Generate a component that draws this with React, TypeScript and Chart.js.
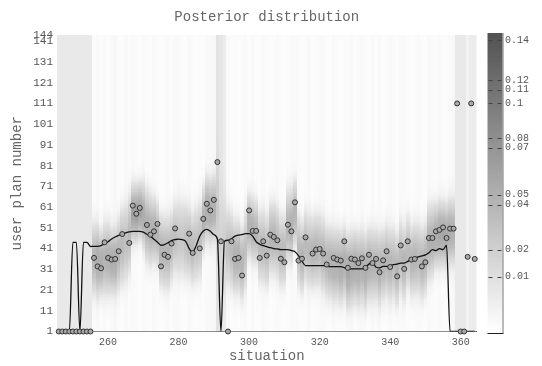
import React, { useEffect, useRef } from 'react';
import { Chart, registerables } from 'chart.js';
Chart.register(...registerables);

const MONO = '"Liberation Mono", "DejaVu Sans Mono", monospace';

const situations = [
  246, 247, 248, 249, 250, 251, 252, 253, 254, 255,
  256, 257, 258, 259, 260, 261, 262, 263, 264, 265,
  266, 267, 268, 269, 270, 271, 272, 273, 274, 275,
  276, 277, 278, 279, 280, 281, 282, 283, 284, 285,
  286, 287, 288, 289, 290, 291, 292, 293, 294, 295,
  296, 297, 298, 299, 300, 301, 302, 303, 304, 305,
  306, 307, 308, 309, 310, 311, 312, 313, 314, 315,
  316, 317, 318, 319, 320, 321, 322, 323, 324, 325,
  326, 327, 328, 329, 330, 331, 332, 333, 334, 335,
  336, 337, 338, 339, 340, 341, 342, 343, 344, 345,
  346, 347, 348, 349, 350, 351, 352, 353, 354, 355,
  356, 357, 358, 359, 360, 361, 362, 363, 364,
];

// observed user plan number (circles)
const userPlan = [
  1, 1, 1, 1, 1, 1, 1, 1, 1, 1,
  36.5, 32.4, 31.5, 44, 36.5, 35.7, 36, 39.7, 48, null,
  43.7, 61.7, 57.8, 60.6, null, 52.4, 47.7, 49.3, 52.9, 32.4,
  38, 37, 43.4, 50.7, null, null, null, 48.2, 38.9, null,
  41.1, 55.3, 62.6, 59.4, 64.5, 82.7, 44.5, null, 1, 44.5,
  36, 36.5, 28, null, 59.4, 49.5, 49.5, 36.5, 44.5, 37.6,
  47.7, 46.6, 45, 36.1, 34.4, 52.5, 49.3, 63.3, 35.2, 36.1,
  46.4, null, 38.6, 40.5, 40.8, 38.6, 33.3, null, 36.5, 35.7,
  35.2, 44.5, 31.7, 36.1, 35.7, 34, 36.3, 31.7, 38, 34,
  36, 29.6, 35.3, 39.7, 32.1, null, 27.6, 42.5, 31.2, 44.5,
  35.7, 36, null, 32.4, 34.4, 46.1, 46.1, 49.3, 50, 51.2,
  46.1, 50.6, 50.6, 111, 1, 1, 37, 111, 36,
];

// estimated user plan number (black line)
const estimate = [
  1, 1, 1, 1, 44, 44, 1, 44, 44, 42,
  42.1, 42.1, 42.4, 43.4, 44.3, 45.6, 46.6, 47.4, 48, 48.6,
  49.1, 49.3, 49.3, 49.3, 48.9, 47.9, 47, 45.5, 44.1, 42.6,
  42.9, 43.8, 44.8, 45.3, 45.6, 45.3, 44.5, 41, 39.3, 42.5,
  47, 49.5, 50.3, 49.4, 47.7, 45.6, 1, 44.5, 45, 45.8,
  47, 47.5, 47.7, 48.2, 48.2, 47, 44.3, 43.1, 42.4, 41.9,
  41.4, 41, 40.8, 40.5, 40.5, 40.5, 40, 39.5, 37.6, 35,
  32.8, 32.8, 32.8, 32.8, 32.8, 32.8, 32.5, 32.3, 32.3, 32.3,
  32.3, 31.8, 31.2, 31.2, 31.2, 31.2, 31.2, 32, 33.5, 34.5,
  32, 31.7, 32.4, 32.4, 32.8, 33.3, 33.5, 34, 34, 34.8,
  35.7, 36.3, 37, 37.5, 38, 39, 40.5, 40, 41, 40.5,
  42.5, 1, 1, 1, 1, 1, 1, 1, 1,
];

// posterior per situation: centre, spread, peak and background level
const postCenter = [
  0, 0, 0, 0, 0, 0, 0, 0, 0, 0,
  36, 35, 34, 36, 36, 35, 35, 38, 42, 44,
  48, 58, 58, 59, 57, 52, 50, 50, 48, 40,
  39, 39, 42, 46, 46, 46, 45, 44, 41, 43,
  45, 55, 60, 59, 60, 60, 45, 44, 42, 40,
  37, 37, 34, 40, 52, 50, 49, 42, 42, 40,
  46, 46, 44, 40, 40, 52, 52, 58, 40, 37,
  42, 40, 39, 40, 40, 38, 35, 34, 33, 33,
  32, 34, 30, 31, 32, 31, 32, 30, 33, 33,
  33, 31, 33, 35, 33, 34, 31, 37, 34, 39,
  35, 36, 36, 34, 36, 44, 45, 47, 48, 48,
  47, 49, 49, 0, 0, 0, 0, 0, 0,
];
const postSpread = [
  1, 1, 1, 1, 1, 1, 1, 1, 1, 1,
  9, 9, 8, 9, 9, 8, 8, 9, 10, 10,
  10, 7, 7, 7, 8, 9, 9, 8, 8, 9,
  9, 9, 9, 9, 10, 10, 10, 9, 9, 10,
  10, 8, 8, 8, 8, 14, 14, 12, 10, 10,
  9, 9, 9, 10, 8, 8, 8, 9, 9, 9,
  9, 9, 9, 9, 9, 9, 9, 8, 9, 9,
  9, 9, 9, 9, 9, 9, 9, 9, 9, 9,
  9, 9, 9, 9, 9, 9, 9, 9, 9, 9,
  9, 9, 9, 9, 9, 9, 9, 9, 9, 9,
  9, 9, 9, 9, 9, 9, 9, 8, 8, 8,
  8, 8, 8, 1, 1, 1, 1, 1, 1,
];
const postPeak = [
  0, 0, 0, 0, 0, 0, 0, 0, 0, 0,
  0.04, 0.05, 0.05, 0.04, 0.045, 0.05, 0.05, 0.04, 0.035, 0.03,
  0.035, 0.06, 0.065, 0.06, 0.05, 0.045, 0.045, 0.045, 0.04, 0.04,
  0.04, 0.04, 0.035, 0.03, 0.025, 0.025, 0.03, 0.035, 0.035, 0.03,
  0.03, 0.045, 0.05, 0.05, 0.045, 0.015, 0.01, 0.015, 0.03, 0.035,
  0.045, 0.045, 0.04, 0.03, 0.045, 0.045, 0.04, 0.035, 0.035, 0.035,
  0.04, 0.04, 0.035, 0.035, 0.035, 0.04, 0.045, 0.04, 0.035, 0.04,
  0.035, 0.035, 0.04, 0.04, 0.035, 0.04, 0.04, 0.045, 0.045, 0.045,
  0.05, 0.045, 0.055, 0.05, 0.05, 0.05, 0.045, 0.05, 0.045, 0.04,
  0.04, 0.045, 0.04, 0.04, 0.04, 0.035, 0.04, 0.035, 0.04, 0.035,
  0.04, 0.04, 0.035, 0.04, 0.04, 0.045, 0.045, 0.05, 0.055, 0.055,
  0.055, 0.05, 0.045, 0, 0, 0, 0, 0, 0,
];
const postTail = [
  0.0069, 0.0069, 0.0069, 0.0069, 0.0069, 0.0069, 0.0069, 0.0069, 0.0069, 0.0069,
  0.0012, 0.0018, 0.0012, 0.0018, 0.0012, 0.0018, 0.0025, 0.0012, 0.0008, 0.0018,
  0.0012, 0.0018, 0.0012, 0.0008, 0.0018, 0.0012, 0.0008, 0.0018, 0.0012, 0.0008,
  0.0012, 0.0018, 0.0008, 0.0018, 0.0018, 0.0012, 0.0008, 0.0018, 0.0012, 0.0008,
  0.0012, 0.0008, 0.0018, 0.0018, 0.0025, 0.009, 0.008, 0.006, 0.0018, 0.0008,
  0.0012, 0.0008, 0.0012, 0.0018, 0.0008, 0.0018, 0.0012, 0.0008, 0.0018, 0.0012,
  0.0008, 0.0012, 0.0018, 0.0012, 0.0008, 0.0012, 0.0018, 0.0018, 0.0012, 0.0008,
  0.0012, 0.0018, 0.0008, 0.0012, 0.0018, 0.0018, 0.0012, 0.0008, 0.0018, 0.0012,
  0.0008, 0.0012, 0.0012, 0.0018, 0.0008, 0.0012, 0.0018, 0.0012, 0.0008, 0.0018,
  0.0012, 0.0018, 0.0008, 0.0012, 0.0018, 0.0012, 0.0008, 0.0018, 0.0018, 0.0012,
  0.0008, 0.0012, 0.0018, 0.0012, 0.0008, 0.0018, 0.0012, 0.0012, 0.0018, 0.0012,
  0.0012, 0.0018, 0.0025, 0.007, 0.007, 0.007, 0.004, 0.006, 0.006,
];

const planCount = 144;
const xTicks = [260, 280, 300, 320, 340, 360];
const yTicks = [1, 11, 21, 31, 41, 51, 61, 71, 81, 91, 101, 111, 121, 131, 141, 144];
const colorbarTicks = [0.01, 0.02, 0.04, 0.05, 0.07, 0.08, 0.1, 0.11, 0.12, 0.14];
const colorbarTickLabels = ['0.01', '0.02', '0.04', '0.05', '0.07', '0.08', '0.1', '0.11', '0.12', '0.14'];
// position of each colorbar value on the colour scale (0 = white, 1 = darkest)
const colorbarLevels = [0.185, 0.276, 0.428, 0.461, 0.62, 0.653, 0.771, 0.815, 0.848, 0.983];
const colorbarMax = 0.143;

function levelFor(v: number): number {
  const xs = [0, ...colorbarTicks, colorbarMax];
  const ls = [0, ...colorbarLevels, 1];
  if (v <= 0) return 0;
  if (v >= colorbarMax) return 1;
  for (let k = 1; k < xs.length; k++) {
    if (v <= xs[k]) return ls[k - 1] + ((ls[k] - ls[k - 1]) * (v - xs[k - 1])) / (xs[k] - xs[k - 1]);
  }
  return 1;
}
function grayForLevel(l: number): string {
  const g = Math.round(255 - l * 172);
  return `rgb(${g},${g},${g})`;
}
function cellValue(i: number, r: number): number {
  const s = postSpread[i] || 1;
  const d = (r - postCenter[i]) / s;
  return postTail[i] + postPeak[i] * Math.exp(-0.5 * d * d);
}

const heatmapPlugin = {
  id: 'heatmap',
  beforeDatasetsDraw(chart: any) {
    const { ctx, chartArea } = chart;
    const x = chart.scales.x;
    const y = chart.scales.y;
    ctx.save();
    ctx.beginPath();
    ctx.rect(chartArea.left, chartArea.top, chartArea.right - chartArea.left, chartArea.bottom - chartArea.top);
    ctx.clip();
    situations.forEach((sit, i) => {
      const x0 = Math.round(x.getPixelForValue(sit - 0.5));
      const x1 = Math.round(x.getPixelForValue(sit + 0.5));
      for (let r = 1; r <= planCount; r++) {
        const y0 = Math.round(y.getPixelForValue(r + 0.5));
        const y1 = Math.round(y.getPixelForValue(r - 0.5));
        ctx.fillStyle = grayForLevel(levelFor(cellValue(i, r)));
        ctx.fillRect(x0, y0, x1 - x0, y1 - y0);
      }
    });
    ctx.restore();
  },
  afterDraw(chart: any) {
    const { ctx } = chart;
    const cb = chart.scales.cb;
    const bl = cb.left + 11;
    const br = cb.left + 26;
    const top = Math.round(cb.top) - 2;
    const bottom = Math.round(cb.bottom) + 1;
    ctx.save();
    for (let py = top; py < bottom; py++) {
      const l = Math.max(0, Math.min(1, cb.getValueForPixel(py + 0.5)));
      ctx.fillStyle = grayForLevel(l);
      ctx.fillRect(bl, py, br - bl, 1);
    }
    ctx.strokeStyle = '#777';
    ctx.lineWidth = 1;
    ctx.beginPath();
    ctx.moveTo(br + 0.5, top);
    ctx.lineTo(br + 0.5, bottom);
    ctx.stroke();
    ctx.strokeStyle = '#222';
    ctx.beginPath();
    ctx.moveTo(bl, bottom + 0.5);
    ctx.lineTo(br + 1, bottom + 0.5);
    ctx.stroke();
    ctx.strokeStyle = '#444';
    colorbarLevels.forEach((lv) => {
      const py = Math.round(cb.getPixelForValue(lv)) + 0.5;
      ctx.beginPath();
      ctx.moveTo(bl + 1, py);
      ctx.lineTo(bl + 5, py);
      ctx.moveTo(br - 5, py);
      ctx.lineTo(br - 1, py);
      ctx.stroke();
    });
    ctx.restore();
  },
};

export default function App() {
  const ref = useRef<HTMLCanvasElement>(null);
  useEffect(() => {
    if (!ref.current) return;
    const scatterData = situations
      .map((s, i) => ({ x: s, y: userPlan[i] }))
      .filter((p) => p.y !== null);
    const lineData = situations.map((s, i) => ({ x: s, y: estimate[i] }));
    const chart = new Chart(ref.current, {
      type: 'scatter',
      data: {
        datasets: [
          {
            type: 'scatter',
            label: 'user plan',
            data: scatterData as any,
            pointRadius: 2.5,
            pointBorderWidth: 1,
            borderColor: '#333',
            backgroundColor: '#a8a8a8',
            order: 0,
            clip: false as any,
          },
          {
            type: 'line',
            label: 'estimate',
            data: lineData as any,
            borderColor: '#111',
            borderWidth: 1.3,
            pointRadius: 0,
            cubicInterpolationMode: 'monotone',
            fill: false,
            order: 1,
          } as any,
        ],
      },
      options: {
        animation: false,
        responsive: true,
        maintainAspectRatio: false,
        layout: { padding: 0 },
        events: [],
        plugins: {
          legend: { display: false },
          tooltip: { enabled: false },
          title: {
            display: true,
            text: 'Posterior distribution',
            fullSize: false,
            color: '#666',
            font: { family: MONO, size: 14, weight: 'normal' },
            padding: { top: 8.6, bottom: 9.6 },
          },
        },
        scales: {
          x: {
            type: 'linear',
            min: 245.5,
            max: 364.5,
            afterBuildTicks: (s: any) => {
              s.ticks = xTicks.map((v) => ({ value: v }));
            },
            afterFit: (s: any) => {
              s.height = 34;
            },
            ticks: { autoSkip: false, maxRotation: 0, padding: 5, color: '#555', font: { family: MONO, size: 10 } },
            grid: { display: false, drawTicks: false },
            border: { display: true, color: '#222', width: 1 },
            title: {
              display: true,
              text: 'situation',
              color: '#666',
              font: { family: MONO, size: 14 },
              padding: { top: 0, bottom: 1 },
            },
          },
          y: {
            type: 'linear',
            position: 'left',
            min: 1,
            max: 144,
            afterBuildTicks: (s: any) => {
              s.ticks = yTicks.map((v) => ({ value: v }));
            },
            afterFit: (s: any) => {
              s.width = 57;
            },
            ticks: { autoSkip: false, padding: 4, color: '#555', font: { family: MONO, size: 11 } },
            grid: { display: false, drawTicks: false },
            border: { display: true, color: '#222', width: 1 },
            title: {
              display: true,
              text: 'user plan number',
              color: '#666',
              font: { family: MONO, size: 14 },
              padding: { top: 8.6, bottom: 0 },
            },
          },
          cb: {
            type: 'linear',
            position: 'right',
            min: 0,
            max: 1,
            afterBuildTicks: (s: any) => {
              s.ticks = colorbarLevels.map((v) => ({ value: v }));
            },
            afterFit: (s: any) => {
              s.width = 65.5;
            },
            ticks: {
              autoSkip: false,
              padding: 28.5,
              color: '#555',
              font: { family: MONO, size: 10 },
              callback: (_v: any, i: number) => colorbarTickLabels[i],
            },
            grid: { display: false, drawTicks: false },
            border: { display: false },
          },
        } as any,
      },
      plugins: [heatmapPlugin],
    });
    return () => chart.destroy();
  }, []);
  return (
    <div style={{ position: 'absolute', left: 0, top: 0, width: 542, height: 366 }}>
      <canvas ref={ref} />
    </div>
  );
}
